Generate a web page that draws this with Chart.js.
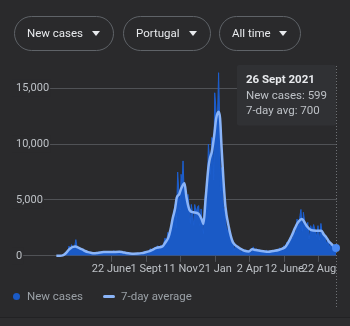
<!DOCTYPE html>
<html>
<head>
<meta charset="utf-8">
<title>New cases – Portugal</title>
<script src="https://cdn.jsdelivr.net/npm/chart.js@4/dist/chart.umd.min.js"></script>
<style>
    html, body { margin: 0; padding: 0; }
    body {
        width: 350px; height: 326px; overflow: hidden; position: relative;
        background: #2a2a2c; font-family: Roboto, "Noto Sans", sans-serif;
    }
    #wrap { position: absolute; left: 0; top: 0; width: 350px; height: 326px; }
    .pill {
        position: absolute; top: 16px; height: 35px; box-sizing: border-box;
        border: 1px solid #5f6368; border-radius: 18px;
        padding-left: 12px; color: #e8eaed; font-size: 11.5px; line-height: 33px;
        white-space: nowrap;
    }
    .pill::after {
        content: ""; position: absolute; right: 13px; top: 14px;
        border-left: 4.5px solid transparent; border-right: 4.5px solid transparent;
        border-top: 5px solid #e8eaed;
    }
    #legend {
        position: absolute; left: 13px; top: 289px; height: 14px;
        display: flex; align-items: center; font-size: 11.5px; color: #9aa0a6;
    }
    #legend .item { display: flex; align-items: center; margin-right: 20px; }
    #legend .dot { width: 7px; height: 7px; border-radius: 50%; margin-right: 7px; }
    #legend .dash { width: 12px; height: 3px; border-radius: 1.5px; margin-right: 6px; }
    #foot {
        position: absolute; left: 0; top: 317px; width: 350px; height: 9px;
        border-top: 1px solid #222224; background: #2d2d2f;
    }
</style>
</head>
<body>
<div id="wrap"><canvas id="chart"></canvas></div>
<div class="pill" style="left:14px;width:100px">New cases</div>
<div class="pill" style="left:123px;width:88px">Portugal</div>
<div class="pill" style="left:219px;width:82px">All time</div>
<div id="legend"></div>
<div id="foot"></div>
<script>
const caseDates = [
    "2020-03-02", "2020-03-08", "2020-03-12", "2020-03-15", "2020-03-18", "2020-03-21", "2020-03-24", "2020-03-27",
    "2020-03-30", "2020-04-01", "2020-04-04", "2020-04-07", "2020-04-10", "2020-04-13", "2020-04-16", "2020-04-19",
    "2020-04-22", "2020-04-25", "2020-04-28", "2020-05-01", "2020-05-04", "2020-05-07", "2020-05-10", "2020-05-13",
    "2020-05-16", "2020-05-19", "2020-05-22", "2020-05-25", "2020-05-28", "2020-05-31", "2020-06-03", "2020-06-06",
    "2020-06-09", "2020-06-12", "2020-06-15", "2020-06-18", "2020-06-21", "2020-06-24", "2020-06-27", "2020-06-30",
    "2020-07-03", "2020-07-06", "2020-07-09", "2020-07-12", "2020-07-15", "2020-07-18", "2020-07-21", "2020-07-24",
    "2020-07-27", "2020-07-30", "2020-08-02", "2020-08-05", "2020-08-08", "2020-08-11", "2020-08-14", "2020-08-17",
    "2020-08-20", "2020-08-23", "2020-08-26", "2020-08-29", "2020-09-01", "2020-09-04", "2020-09-07", "2020-09-10",
    "2020-09-13", "2020-09-16", "2020-09-19", "2020-09-22", "2020-09-25", "2020-09-28", "2020-10-01", "2020-10-04",
    "2020-10-07", "2020-10-10", "2020-10-13", "2020-10-16", "2020-10-19", "2020-10-22", "2020-10-25", "2020-10-28",
    "2020-10-31", "2020-11-02", "2020-11-05", "2020-11-08", "2020-11-10", "2020-11-12", "2020-11-14", "2020-11-16",
    "2020-11-18", "2020-11-20", "2020-11-22", "2020-11-24", "2020-11-26", "2020-11-28", "2020-12-01", "2020-12-03",
    "2020-12-05", "2020-12-08", "2020-12-10", "2020-12-13", "2020-12-16", "2020-12-18", "2020-12-21", "2020-12-23",
    "2020-12-25", "2020-12-28", "2020-12-30", "2021-01-01", "2021-01-04", "2021-01-07", "2021-01-09", "2021-01-11",
    "2021-01-14", "2021-01-16", "2021-01-18", "2021-01-20", "2021-01-22", "2021-01-24", "2021-01-26", "2021-01-28",
    "2021-01-30", "2021-02-01", "2021-02-03", "2021-02-05", "2021-02-07", "2021-02-09", "2021-02-11", "2021-02-14",
    "2021-02-17", "2021-02-20", "2021-02-23", "2021-02-26", "2021-03-01", "2021-03-04", "2021-03-07", "2021-03-10",
    "2021-03-13", "2021-03-16", "2021-03-19", "2021-03-22", "2021-03-25", "2021-03-28", "2021-03-31", "2021-04-03",
    "2021-04-06", "2021-04-09", "2021-04-12", "2021-04-15", "2021-04-18", "2021-04-21", "2021-04-24", "2021-04-27",
    "2021-04-30", "2021-05-03", "2021-05-06", "2021-05-09", "2021-05-12", "2021-05-15", "2021-05-18", "2021-05-21",
    "2021-05-24", "2021-05-27", "2021-05-30", "2021-06-02", "2021-06-05", "2021-06-08", "2021-06-11", "2021-06-14",
    "2021-06-17", "2021-06-20", "2021-06-23", "2021-06-26", "2021-06-29", "2021-07-02", "2021-07-05", "2021-07-08",
    "2021-07-11", "2021-07-14", "2021-07-16", "2021-07-19", "2021-07-21", "2021-07-24", "2021-07-27", "2021-07-30",
    "2021-08-02", "2021-08-05", "2021-08-08", "2021-08-11", "2021-08-14", "2021-08-17", "2021-08-20", "2021-08-23",
    "2021-08-26", "2021-08-29", "2021-09-01", "2021-09-04", "2021-09-07", "2021-09-10", "2021-09-13", "2021-09-16",
    "2021-09-19", "2021-09-22", "2021-09-24", "2021-09-26",
];
const caseCounts = [
    2, 9, 20, 80, 190, 260, 300, 880,
    450, 1000, 640, 700, 1450, 600, 750, 520,
    600, 440, 290, 450, 240, 350, 220, 290,
    230, 170, 290, 180, 350, 200, 370, 380,
    280, 330, 260, 380, 330, 310, 460, 250,
    410, 270, 440, 300, 380, 280, 180, 250,
    130, 230, 200, 210, 170, 150, 230, 140,
    260, 240, 290, 400, 230, 420, 330, 640,
    430, 600, 780, 520, 900, 540, 920, 650,
    1000, 1600, 1200, 2100, 1400, 2600, 3000, 3900,
    4600, 2500, 7500, 5300, 4100, 7300, 6600, 8500,
    6100, 6400, 5000, 4300, 5500, 4600, 2900, 4600,
    4000, 2700, 4600, 3900, 4400, 4500, 2700, 4200,
    3000, 2000, 4600, 5500, 4100, 10000, 9000, 7300,
    10600, 10400, 6800, 14600, 13500, 11700, 12900, 16400,
    12400, 5800, 7900, 6000, 4300, 4200, 3500, 1900,
    2600, 1900, 1100, 1400, 450, 1000, 600, 800,
    500, 300, 600, 200, 550, 400, 450, 450,
    300, 800, 350, 650, 450, 550, 450, 350,
    500, 250, 500, 370, 400, 400, 350, 500,
    300, 550, 450, 700, 650, 500, 900, 600,
    1200, 900, 1600, 1700, 1500, 2400, 1900, 3300,
    2500, 3600, 4150, 2200, 3900, 3000, 2300, 3000,
    1500, 2700, 2200, 2800, 2300, 1700, 2700, 1400,
    2900, 1900, 2000, 1600, 1000, 1500, 700, 1100,
    800, 750, 800, 599,
];

// 7-day average
const avgDates = [
    "2020-03-01", "2020-03-08", "2020-03-14", "2020-03-18", "2020-03-22", "2020-03-26", "2020-03-31", "2020-04-04",
    "2020-04-09", "2020-04-14", "2020-04-19", "2020-04-24", "2020-04-29", "2020-05-05", "2020-05-11", "2020-05-17",
    "2020-05-23", "2020-05-30", "2020-06-06", "2020-06-14", "2020-06-22", "2020-06-30", "2020-07-08", "2020-07-15",
    "2020-07-22", "2020-07-30", "2020-08-07", "2020-08-15", "2020-08-23", "2020-08-31", "2020-09-07", "2020-09-14",
    "2020-09-21", "2020-09-28", "2020-10-05", "2020-10-10", "2020-10-17", "2020-10-21", "2020-10-26", "2020-10-31",
    "2020-11-03", "2020-11-08", "2020-11-12", "2020-11-19", "2020-11-23", "2020-11-30", "2020-12-07", "2020-12-18",
    "2020-12-24", "2020-12-28", "2021-01-01", "2021-01-07", "2021-01-10", "2021-01-14", "2021-01-19", "2021-01-23",
    "2021-01-28", "2021-01-31", "2021-02-03", "2021-02-07", "2021-02-11", "2021-02-18", "2021-02-25", "2021-03-01",
    "2021-03-08", "2021-03-15", "2021-03-22", "2021-03-31", "2021-04-07", "2021-04-14", "2021-04-23", "2021-05-03",
    "2021-05-10", "2021-05-20", "2021-05-31", "2021-06-08", "2021-06-14", "2021-06-20", "2021-06-27", "2021-07-04",
    "2021-07-08", "2021-07-13", "2021-07-18", "2021-07-24", "2021-07-29", "2021-08-06", "2021-08-16", "2021-08-27",
    "2021-09-01", "2021-09-06", "2021-09-11", "2021-09-17", "2021-09-22", "2021-09-26",
];
const avgCounts = [
    0, 5, 40, 130, 300, 520, 700, 800,
    840, 760, 640, 550, 430, 330, 270, 230,
    250, 300, 330, 340, 330, 350, 360, 320,
    260, 210, 190, 200, 240, 320, 400, 530,
    690, 760, 850, 1150, 1650, 2300, 3400, 4300,
    5200, 5500, 6000, 6500, 5250, 4050, 3900, 3750,
    3300, 2850, 4900, 7900, 8700, 9300, 10800, 12300,
    12900, 12300, 9750, 6750, 4400, 2550, 1350, 1050,
    800, 600, 450, 390, 580, 520, 450, 380,
    360, 430, 520, 650, 800, 1200, 1800, 2500,
    2850, 3150, 3300, 2950, 2600, 2300, 2250, 2250,
    1900, 1650, 1300, 1050, 800, 700,
];

const seriesNames = ["New cases", "7-day average"];
const tooltipNames = ["New cases", "7-day avg"];

const xTickDates = ["2020-06-22", "2020-09-01", "2020-11-11", "2021-01-21", "2021-04-02", "2021-06-12", "2021-08-22"];
const xTickLabels = ["22 June", "1 Sept", "11 Nov", "21 Jan", "2 Apr", "12 June", "22 Aug"];
const xRange = ["2019-12-03", "2021-09-28"];
const yTicks = [0, 5000, 10000, 15000];
const yMax = 17000;
const monthNames = ["Jan", "Feb", "Mar", "Apr", "May", "June", "July", "Aug", "Sept", "Oct", "Nov", "Dec"];

(function () {
    "use strict";

    const FONT = "Roboto, 'Noto Sans', sans-serif";
    const BG = "#2a2a2c";
    const GRID = "#505256";
    const DAY0 = Date.UTC(2020, 2, 1);
    const DAY_MS = 86400000;

    const dayOf = s => (Date.parse(s) - DAY0) / DAY_MS;
    function formatDay(d) {
        const dt = new Date(DAY0 + d * DAY_MS);
        return `${dt.getUTCDate()} ${monthNames[dt.getUTCMonth()]} ${dt.getUTCFullYear()}`;
    }

    const lastAvg = avgDates.length - 1;

    // Google-style: tooltip box pinned at the top, right edge on the hovered day
    Chart.Tooltip.positioners.pinned = function (items) {
        if (!items.length) { return false; }
        const el = items[items.length - 1].element;
        return { x: el.x - 2, y: this.chart.chartArea.top - 1 };
    };

    const hoverLine = {
        id: "hoverLine",
        beforeDatasetsDraw(chart) {
            const active = chart.tooltip ? chart.tooltip.getActiveElements() : [];
            if (!active.length) { return; }
            const x = Math.round(active[active.length - 1].element.x) + 0.5;
            const ctx = chart.ctx;
            ctx.save();
            ctx.strokeStyle = "#6e7175";
            ctx.lineWidth = 1;
            ctx.setLineDash([1, 2]);
            ctx.beginPath();
            ctx.moveTo(x, chart.chartArea.top);
            ctx.lineTo(x, chart.chartArea.bottom + 53);
            ctx.stroke();
            ctx.restore();
        },
    };

    const chart = new Chart(document.getElementById("chart"), {
        type: "line",
        data: {
            datasets: [{
                label: seriesNames[0],
                data: caseDates.map((d, i) => ({ x: dayOf(d), y: caseCounts[i] })),
                borderColor: "#1d5fcf",
                borderWidth: 1,
                backgroundColor: "#1a5ac6",
                fill: "origin",
                tension: 0,
                pointRadius: 0,
                pointHoverRadius: 0,
                order: 2,
            }, {
                label: seriesNames[1],
                data: avgDates.map((d, i) => ({ x: dayOf(d), y: avgCounts[i] })),
                borderColor: "#8ab4f8",
                borderWidth: 2.5,
                fill: false,
                cubicInterpolationMode: "monotone",
                pointRadius: c => (c.dataIndex === lastAvg ? 4 : 0),
                pointHoverRadius: c => (c.dataIndex === lastAvg ? 4 : 0),
                pointBackgroundColor: "#4a8af4",
                pointHoverBackgroundColor: "#4a8af4",
                pointBorderWidth: 0,
                pointHoverBorderWidth: 0,
                clip: false,
                order: 1,
            }],
        },
        options: {
            responsive: true,
            maintainAspectRatio: false,
            animation: false,
            events: [],
            layout: { padding: { left: 7, right: 13, top: 66, bottom: 49 } },
            scales: {
                x: {
                    type: "linear",
                    min: dayOf(xRange[0]),
                    max: dayOf(xRange[1]),
                    afterBuildTicks: s => { s.ticks = xTickDates.map(d => ({ value: dayOf(d) })); },
                    grid: { drawOnChartArea: false, drawTicks: true, tickLength: 6, color: GRID },
                    border: { display: false },
                    ticks: {
                        autoSkip: false, maxRotation: 0, padding: 1,
                        color: "#bdc1c6", font: { family: FONT, size: 11 },
                        callback: (v, i) => xTickLabels[i],
                    },
                },
                y: {
                    min: 0,
                    max: yMax,
                    afterBuildTicks: s => { s.ticks = yTicks.map(v => ({ value: v })); },
                    grid: { drawTicks: false, color: GRID },
                    border: { display: false },
                    ticks: {
                        mirror: true, padding: 3,
                        color: "#bdc1c6", font: { family: FONT, size: 11 },
                        showLabelBackdrop: true, backdropColor: BG,
                        backdropPadding: { left: 4, right: 1, top: 2, bottom: 2 },
                        callback: v => v.toLocaleString("en-US"),
                    },
                },
            },
            plugins: {
                legend: { display: false },
                tooltip: {
                    position: "pinned",
                    xAlign: "right",
                    yAlign: "top",
                    caretSize: 0,
                    caretPadding: 0,
                    cornerRadius: 2,
                    backgroundColor: "#303134",
                    titleColor: "#e8eaed",
                    bodyColor: "#bdc1c6",
                    titleFont: { family: FONT, size: 11.5, weight: "bold" },
                    bodyFont: { family: FONT, size: 11.5 },
                    padding: { top: 8, bottom: 7, left: 9, right: 9 },
                    titleMarginBottom: 2,
                    bodySpacing: 2,
                    displayColors: false,
                    callbacks: {
                        title: items => formatDay(items[0].parsed.x),
                        label: item => `${tooltipNames[item.datasetIndex]}: ${item.parsed.y}`,
                    },
                },
            },
        },
        plugins: [hoverLine],
    });

    // HTML legend from the datasets
    const legend = document.getElementById("legend");
    chart.data.datasets.forEach(ds => {
        const item = document.createElement("span");
        item.className = "item";
        const mark = document.createElement("span");
        mark.className = ds.fill ? "dot" : "dash";
        mark.style.background = ds.fill ? ds.backgroundColor : ds.borderColor;
        const text = document.createElement("span");
        text.textContent = ds.label;
        item.append(mark, text);
        legend.append(item);
    });

    // show the last day as hovered, like the screenshot
    const active = [
        { datasetIndex: 0, index: caseDates.length - 1 },
        { datasetIndex: 1, index: lastAvg },
    ];
    chart.setActiveElements(active);
    chart.tooltip.setActiveElements(active, { x: 0, y: 0 });
    chart.draw();
})();
</script>
</body>
</html>
